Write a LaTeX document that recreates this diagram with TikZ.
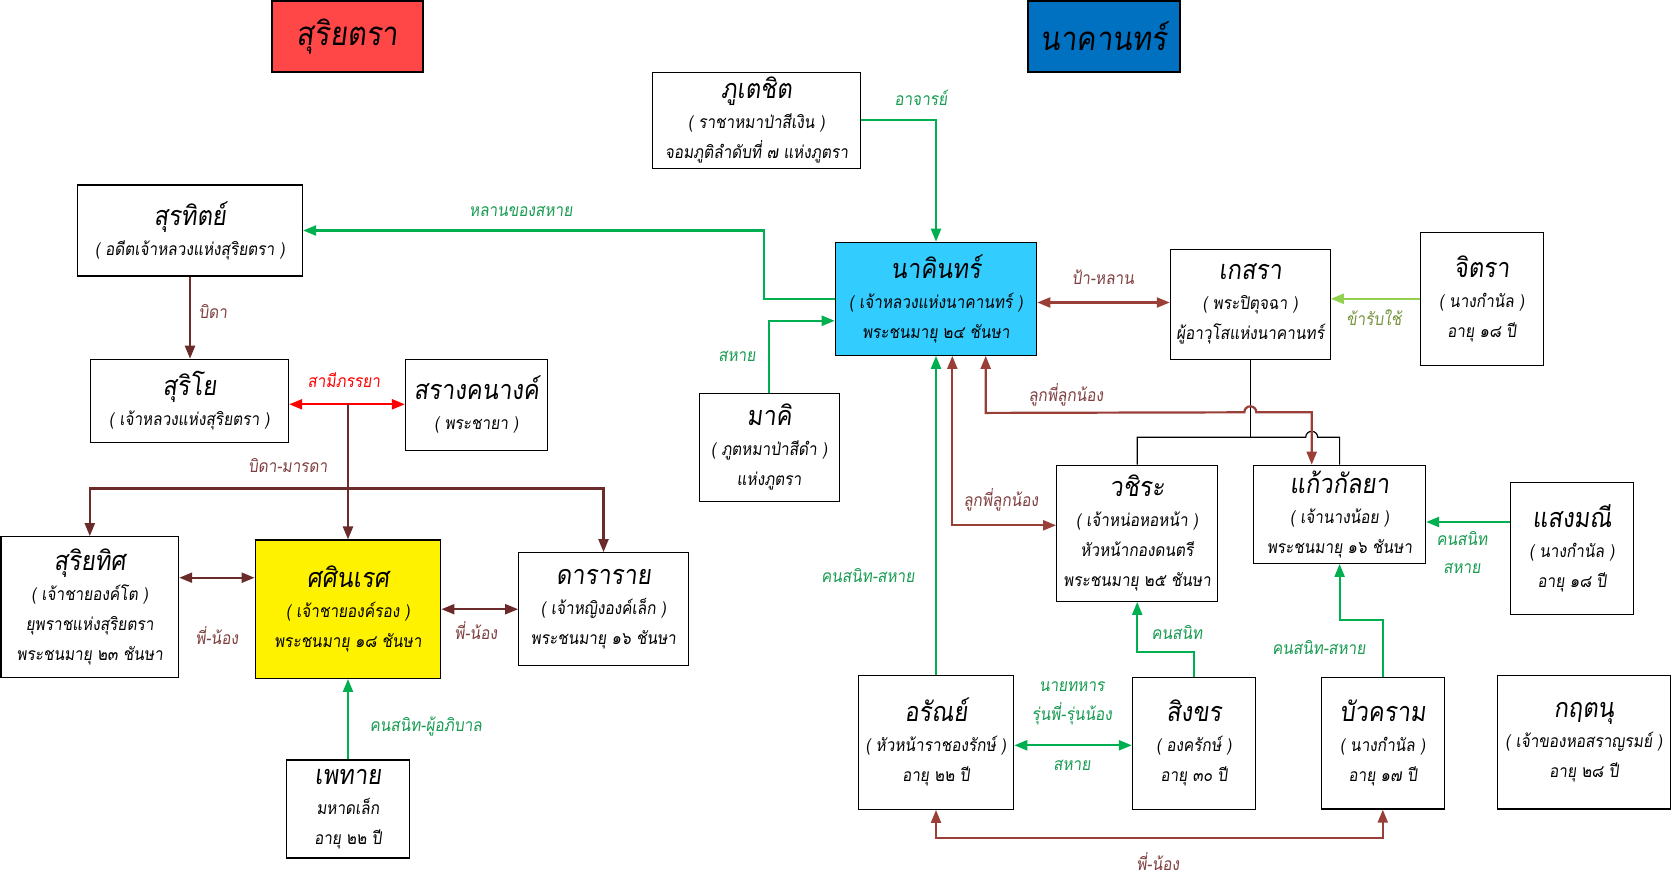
\documentclass[tikz,border=0pt]{standalone}
\usepackage{fontspec}
\setmainfont[Script=Thai,FakeSlant=0.12,FakeStretch=0.88]{Loma}
\usetikzlibrary{arrows.meta,calc}
\definecolor{gline}{HTML}{00B050}
\definecolor{gtext}{HTML}{169B50}
\definecolor{bline}{HTML}{6B2B2B}
\definecolor{rline}{HTML}{9A3F38}
\definecolor{btext}{HTML}{7F3F3F}
\definecolor{lgline}{HTML}{92D050}
\definecolor{lgtext}{HTML}{76923C}
\definecolor{titleR}{HTML}{FF4747}
\definecolor{titleB}{HTML}{0070C0}
\definecolor{cyanbox}{HTML}{33CCFF}
\newcommand\bxname[1]{{\fontsize{27}{30}\selectfont #1}}
\begin{document}
\begin{tikzpicture}[x=1pt,y=-1pt,
  >={Triangle[length=13pt,width=10pt]},
  box/.style={draw=black, line width=1.2pt, align=center, inner sep=0pt, font=\fontsize{17.5}{30}\selectfont},
  ttl/.style={draw=black, line width=1.2pt, inner sep=0pt, font=\fontsize{33}{36}\selectfont},
  gc/.style={draw=gline, line width=2.2pt},
  bc/.style={draw=bline, line width=2.2pt},
  rc/.style={draw=rline, line width=2.2pt},
  redc/.style={draw=red, line width=2.2pt},
  lgc/.style={draw=lgline, line width=2.2pt},
  tree/.style={draw=black, line width=1.2pt},
  lab/.style={inner sep=0pt, align=center, font=\fontsize{17.5}{28}\selectfont},
  glab/.style={lab, text=gtext},
  blab/.style={lab, text=btext},
  rlab/.style={lab, text=red},
  lglab/.style={lab, text=lgtext}]
\useasboundingbox (0,0) rectangle (1672,876);

% titles
\node[ttl, fill=titleR, minimum width=151pt, minimum height=71pt] (tS) at (347.5,36.5) {สุริยตรา};
\node[ttl, fill=titleB, minimum width=152pt, minimum height=71pt] (tN) at (1104,36.5) {นาคานทร์};

% boxes
\node[box, minimum width=225pt, minimum height=91pt] (surathit) at (190,230.5) {\bxname{สุรทิตย์}\\( อดีตเจ้าหลวงแห่งสุริยตรา )};
\node[box, minimum width=208pt, minimum height=96pt] (phutechit) at (756.6,120.3) {\bxname{ภูเตชิต}\\( ราชาหมาป่าสีเงิน )\\จอมภูติลำดับที่ ๗ แห่งภูตรา};
\node[box, fill=cyanbox, minimum width=201.4pt, minimum height=113pt] (nakhin) at (936,298.8) {\bxname{นาคินทร์}\\( เจ้าหลวงแห่งนาคานทร์ )\\พระชนมายุ ๒๔ ชันษา};
\node[box, minimum width=140pt, minimum height=108pt] (makhi) at (769.3,447.3) {\bxname{มาคิ}\\( ภูตหมาป่าสีดำ )\\แห่งภูตรา};
\node[box, minimum width=159.8pt, minimum height=110pt] (kesara) at (1250.3,304.3) {\bxname{เกสรา}\\( พระปิตุจฉา )\\ผู้อาวุโสแห่งนาคานทร์};
\node[box, minimum width=123pt, minimum height=133pt] (chittra) at (1481.8,298.8) {\bxname{จิตรา}\\( นางกำนัล )\\อายุ ๑๘ ปี};
\node[box, minimum width=161.1pt, minimum height=136pt] (wachira) at (1137.2,533.3) {\bxname{วชิระ}\\( เจ้าหน่อหอหน้า )\\หัวหน้ากองดนตรี\\พระชนมายุ ๒๕ ชันษา};
\node[box, minimum width=171.8pt, minimum height=98pt] (kaeo) at (1339.6,514.3) {\bxname{แก้วกัลยา}\\( เจ้านางน้อย )\\พระชนมายุ ๑๖ ชันษา};
\node[box, minimum width=123.4pt, minimum height=132pt] (saengmani) at (1572,548.3) {\bxname{แสงมณี}\\( นางกำนัล )\\อายุ ๑๘ ปี};
\node[box, minimum width=123pt, minimum height=131.7pt] (buakhram) at (1382.8,743.2) {\bxname{บัวคราม}\\( นางกำนัล )\\อายุ ๑๗ ปี};
\node[box, minimum width=173.5pt, minimum height=133.3pt] (kritanu) at (1584,742.3) {\bxname{กฤตนุ}\\( เจ้าของหอสราญรมย์ )\\อายุ ๒๘ ปี};
\node[box, minimum width=155.3pt, minimum height=134pt] (aran) at (936,742.3) {\bxname{อรัณย์}\\( หัวหน้าราชองรักษ์ )\\อายุ ๒๒ ปี};
\node[box, minimum width=123.2pt, minimum height=132pt] (singkhon) at (1194,743.3) {\bxname{สิงขร}\\( องครักษ์ )\\อายุ ๓๐ ปี};
\node[box, minimum width=198.2pt, minimum height=83pt] (suriyo) at (189.5,400.8) {\bxname{สุริโย}\\( เจ้าหลวงแห่งสุริยตรา )};
\node[box, minimum width=142.1pt, minimum height=91pt] (sarang) at (476.5,404.8) {\bxname{สรางคนางค์}\\( พระชายา )};
\node[box, minimum width=177.6pt, minimum height=140.6pt] (suriyathit) at (89.8,607) {\bxname{สุริยทิศ}\\( เจ้าชายองค์โต )\\ยุพราชแห่งสุริยตรา\\พระชนมายุ ๒๓ ชันษา};
\node[box, fill=yellow, minimum width=185.6pt, minimum height=138.3pt] (sasin) at (348,609.2) {\bxname{ศศินเรศ}\\( เจ้าชายองค์รอง )\\พระชนมายุ ๑๘ ชันษา};
\node[box, minimum width=169.6pt, minimum height=112.6pt] (dara) at (603.5,609) {\bxname{ดาราราย}\\( เจ้าหญิงองค์เล็ก )\\พระชนมายุ ๑๖ ชันษา};
\node[box, minimum width=122.8pt, minimum height=98pt] (phethai) at (348,809) {\bxname{เพทาย}\\มหาดเล็ก\\อายุ ๒๒ ปี};

% ---- right side connectors
\draw[gc,->] (phutechit.east) -| (nakhin.north);
\draw[gc,->] (nakhin.west) -- ++(-71,0) |- (surathit.east);
\draw[gc,->] (makhi.north) |- ([yshift=-22pt]nakhin.west);
\coordinate (pl) at ([yshift=-3.7pt]nakhin.east);
\draw[rc,<->] (pl) -- (pl -| kesara.west);
\draw[lgc,->] (chittra.west) -- (chittra.west -| kesara.east);

% family tree of kesara
\coordinate (bus) at (kesara.south |- 0,437.3);
\draw[tree] (kesara.south) -- (bus);
\draw[tree] (wachira.north) -- (wachira.north |- bus) -- (1305.7,437.3) arc[start angle=180,end angle=0,radius=6pt] -- (kaeo.north |- bus) -- (kaeo.north);

% cousins
\coordinate (rv) at (1311.7,412.3);
\draw[rc,<->] ([xshift=49.7pt]nakhin.south) -- ++(0,57) -- (1244.3,412.3) arc[start angle=180,end angle=0,radius=6pt] -- (rv) -- (kaeo.north -| rv);
\draw[rc,<->] ([xshift=16.3pt]nakhin.south) |- ([yshift=8pt]wachira.west);

\draw[gc,->] (aran.north) -- (aran.north |- nakhin.south);
\coordinate (s1) at ([yshift=24.5pt]singkhon.north);
\draw[gc,->] (singkhon.north) -- (s1) -| (wachira.south);
\coordinate (a1) at ([yshift=-3pt]aran.east);
\draw[gc,<->] (a1) -- (a1 -| singkhon.west);
\coordinate (b1) at ([yshift=57pt]buakhram.north);
\draw[gc,->] (buakhram.north) -- (b1) -| (kaeo.south);
\coordinate (sm) at ([yshift=26.3pt]saengmani.west);
\draw[gc,->] (sm) -- (sm -| kaeo.east);
\coordinate (p1) at ([yshift=-28pt]aran.south);
\draw[rc,<->] (aran.south) -- (p1) -| (buakhram.south);

% ---- left side connectors
\draw[bc,->] (surathit.south) -- (surathit.south |- suriyo.north);
\coordinate (sp) at ([yshift=-3.5pt]suriyo.east);
\draw[redc,<->] (sp) -- (sp -| sarang.west);
\coordinate (mid) at (sp -| sasin.north);
\draw[bc,->] (mid) -- (sasin.north);
\coordinate (fb) at ([yshift=-84.2pt]mid);
\draw[bc,->] (fb) -| (suriyathit.north);
\draw[bc,->] (fb) -| (dara.north);
\coordinate (ss) at ([yshift=29.3pt]suriyathit.east);
\draw[bc,<->] (ss) -- (ss -| sasin.west);
\draw[bc,<->] (sasin.east) -- (sasin.east -| dara.west);
\draw[gc,->] (phethai.north) -- (phethai.north |- sasin.south);

% ---- labels
\node[glab] (l1) at (921,98) {อาจารย์};
\node[glab] (l2) at (521,211) {หลานของสหาย};
\node[glab] (l3) at (737,356) {สหาย};
\node[blab] (l4) at (1103,277) {ป้า-หลาน};
\node[lglab] (l5) at (1374,318) {ข้ารับใช้};
\node[blab] (l6) at (1066,395) {ลูกพี่ลูกน้อง};
\node[blab] (l7) at (1001,500) {ลูกพี่ลูกน้อง};
\node[glab] (l8) at (868,576) {คนสนิท-สหาย};
\node[glab] (l9) at (1177,633) {คนสนิท};
\node[glab] (l10) at (1072,687) {นายทหาร};
\node[glab] (l11) at (1072,714) {รุ่นพี่-รุ่นน้อง};
\node[glab] (l12) at (1072,765) {สหาย};
\node[glab] (l13) at (1319,648) {คนสนิท-สหาย};
\node[glab] (l14) at (1462,553) {คนสนิท\\สหาย};
\node[blab] (l15) at (1158,862) {พี่-น้อง};
\node[blab] (l16) at (213,311) {บิดา};
\node[rlab] (l17) at (344,380) {สามีภรรยา};
\node[blab] (l18) at (288,466) {บิดา-มารดา};
\node[blab] (l19) at (217,636) {พี่-น้อง};
\node[blab] (l20) at (476,631) {พี่-น้อง};
\node[glab] (l21) at (426,726) {คนสนิท-ผู้อภิบาล};
\end{tikzpicture}
\end{document}
